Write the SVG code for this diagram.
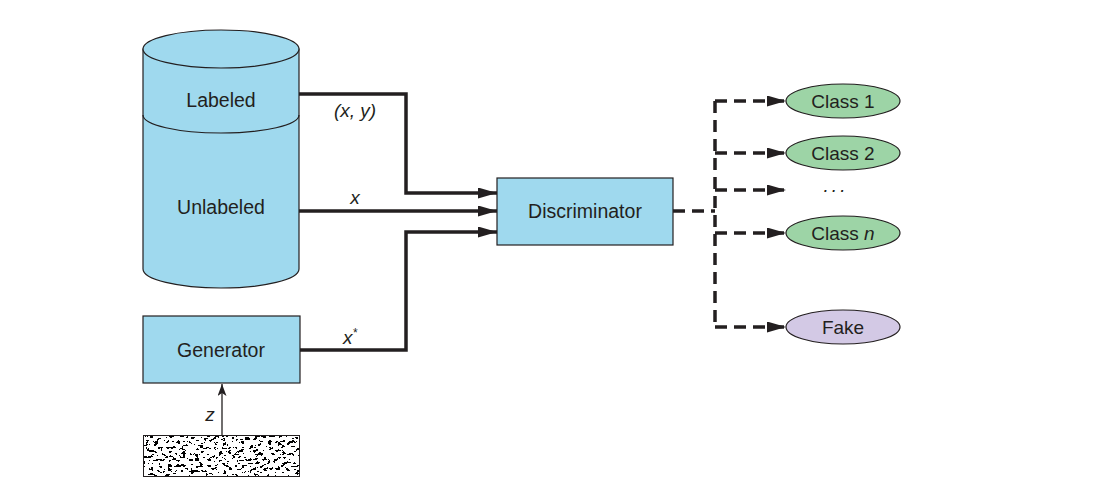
<svg xmlns="http://www.w3.org/2000/svg" width="1103" height="496" viewBox="0 0 1103 496">
  <style>
    .box { fill: #9fd9ee; stroke: #231f20; stroke-width: 1.2; }
    .cls { fill: #9dd4a6; stroke: #231f20; stroke-width: 1.2; }
    .fake { fill: #d3c9e5; stroke: #231f20; stroke-width: 1.2; }
    .lbl { font-family: "Liberation Sans", Arial, sans-serif; font-size: 19.5px; fill: #231f20; text-anchor: middle; }
    .it { font-family: "Liberation Sans", Arial, sans-serif; font-size: 19px; font-style: italic; fill: #231f20; text-anchor: middle; }
    .solid { fill: none; stroke: #231f20; stroke-width: 3.5; }
    .dash { fill: none; stroke: #231f20; stroke-width: 3.5; stroke-dasharray: 12 7; }
    .thin { fill: none; stroke: #231f20; stroke-width: 1.3; }
  </style>
  <defs>
    <marker id="head" markerUnits="userSpaceOnUse" markerWidth="19" markerHeight="11" refX="19" refY="5.5" orient="auto">
      <path d="M0,0 L19,5.5 L0,11 Z" fill="#231f20"/>
    </marker>
    <marker id="headSmall" markerUnits="userSpaceOnUse" markerWidth="12" markerHeight="9" refX="12" refY="4.5" orient="auto">
      <path d="M0,0 L12,4.5 L0,9 L3,4.5 Z" fill="#231f20"/>
    </marker>
    <filter id="grain" x="0" y="0" width="100%" height="100%" color-interpolation-filters="sRGB">
      <feTurbulence type="fractalNoise" baseFrequency="0.22 0.34" numOctaves="3" seed="11"/>
      <feColorMatrix type="matrix" values="1 0 0 0 0  1 0 0 0 0  1 0 0 0 0  0 0 0 0 1"/>
      <feComponentTransfer>
        <feFuncR type="discrete" tableValues="0 0 1 1 1"/>
        <feFuncG type="discrete" tableValues="0 0 1 1 1"/>
        <feFuncB type="discrete" tableValues="0 0 1 1 1"/>
      </feComponentTransfer>
    </filter>
  </defs>

  <!-- data store: labeled + unlabeled samples -->
  <g id="data-store">
    <path class="box" d="M143,49 L143,269 A78,19 0 0 0 299,269 L299,49 Z"/>
    <ellipse class="box" cx="221" cy="49" rx="78" ry="19"/>
    <path class="box" style="fill:none" d="M143,115 A78,18 0 0 0 299,115"/>
    <text class="lbl" x="221" y="107">Labeled</text>
    <text class="lbl" x="221" y="214">Unlabeled</text>
  </g>

  <g id="generator">
    <rect class="box" x="143" y="316" width="157" height="67"/>
    <text class="lbl" x="221" y="357">Generator</text>
  </g>

  <g id="noise">
    <rect x="143" y="435" width="157" height="42" fill="#fff" filter="url(#grain)"/>
    <rect x="143.5" y="435.5" width="156" height="41" fill="none" stroke="#231f20" stroke-width="1"/>
  </g>

  <g id="discriminator">
    <rect class="box" x="497" y="178" width="176" height="67"/>
    <text class="lbl" x="585" y="218">Discriminator</text>
  </g>

  <g id="class-1">
    <ellipse class="cls" cx="843" cy="101" rx="57" ry="17"/>
    <text class="lbl" x="843" y="108" style="font-size:19px">Class 1</text>
  </g>
  <g id="class-2">
    <ellipse class="cls" cx="843" cy="153" rx="57" ry="17"/>
    <text class="lbl" x="843" y="160" style="font-size:19px">Class 2</text>
  </g>
  <g id="ellipsis">
    <text class="it" x="836" y="192" letter-spacing="3">...</text>
  </g>
  <g id="class-n">
    <ellipse class="cls" cx="843" cy="233" rx="57" ry="17"/>
    <text class="lbl" x="843" y="240" style="font-size:19px">Class <tspan font-style="italic">n</tspan></text>
  </g>
  <g id="fake">
    <ellipse class="fake" cx="843" cy="327" rx="57" ry="17"/>
    <text class="lbl" x="843" y="334" style="font-size:19px">Fake</text>
  </g>

  <g id="connectors">
    <!-- inputs to the discriminator -->
    <path class="solid" d="M299,94 L406,94 L406,193 L497,193" marker-end="url(#head)"/>
    <path class="solid" d="M299,211 L497,211" marker-end="url(#head)"/>
    <path class="solid" d="M300,350 L406,350 L406,232 L497,232" marker-end="url(#head)"/>
    <!-- noise z into the generator -->
    <path class="thin" d="M222,435 L222,384" marker-end="url(#headSmall)"/>
    <!-- discriminator outputs -->
    <path class="dash" d="M673,211 L715,211"/>
    <path class="dash" d="M715,101 L715,327"/>
    <path class="dash" d="M715,101 L786,101" marker-end="url(#head)"/>
    <path class="dash" d="M715,153 L786,153" marker-end="url(#head)"/>
    <path class="dash" d="M715,190 L786,190" marker-end="url(#head)"/>
    <path class="dash" d="M715,233 L786,233" marker-end="url(#head)"/>
    <path class="dash" d="M715,327 L786,327" marker-end="url(#head)"/>
    <!-- edge labels -->
    <text class="it" x="355" y="117">(x, y)</text>
    <text class="it" x="355" y="204">x</text>
    <text class="it" x="350" y="344">x<tspan dy="-7" font-size="12">*</tspan></text>
    <text class="it" x="210" y="421">z</text>
  </g>
</svg>
